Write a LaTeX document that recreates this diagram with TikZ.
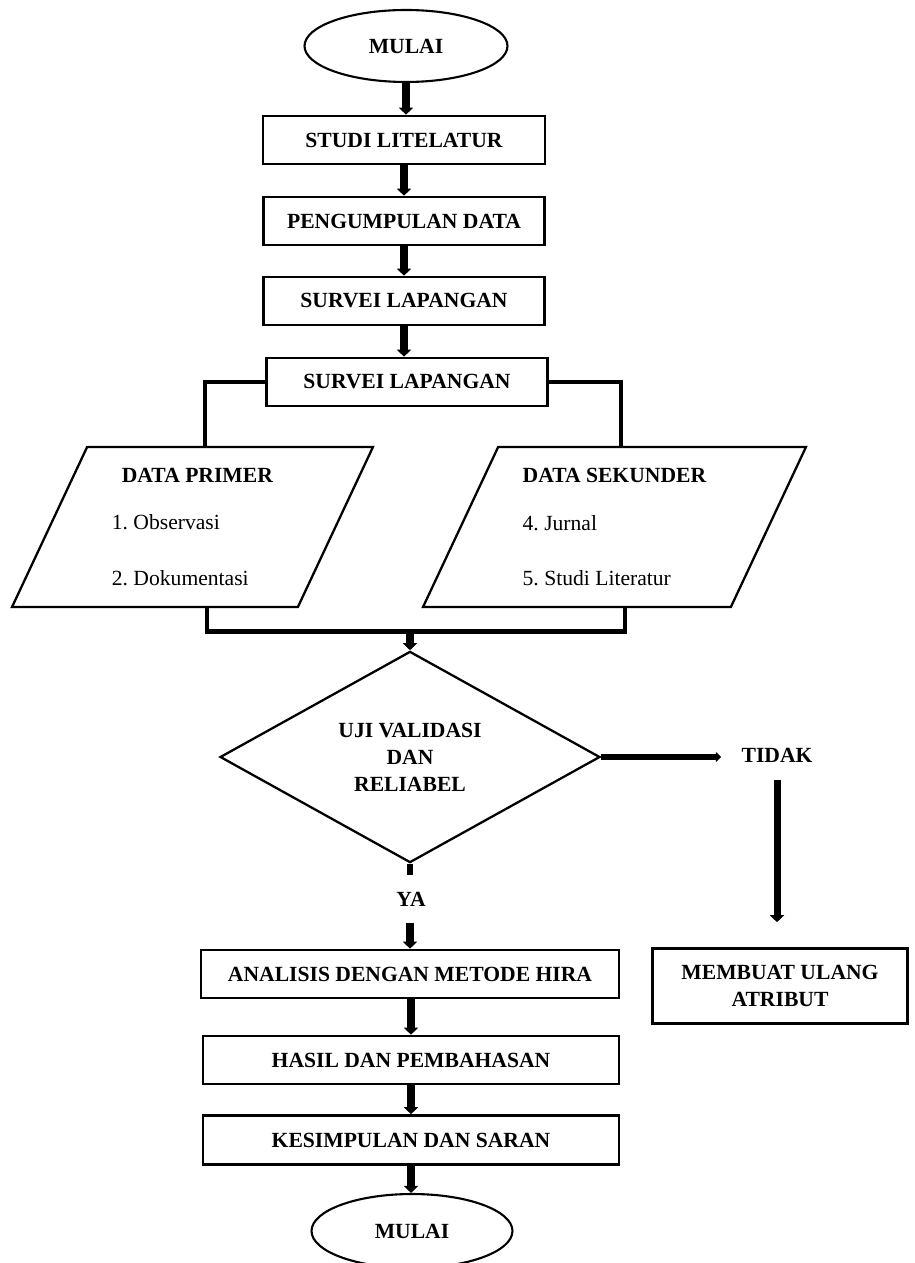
\documentclass[tikz,border=0pt]{standalone}
\usepackage{fontspec}
\setmainfont{Liberation Serif}
\usetikzlibrary{shapes.geometric,arrows.meta,calc}

\newcommand{\diagfont}{\fontsize{12.3}{15.3}\selectfont}

\tikzstyle{terminal} = [draw, ellipse, line width=1.2pt, minimum width=4.06cm, minimum height=1.44cm, font=\diagfont\bfseries]
\tikzstyle{process} = [draw, rectangle, line width=1.5pt, minimum height=0.96cm, font=\diagfont\bfseries, align=center]
\tikzstyle{io} = [draw, trapezium, trapezium left angle=60, trapezium right angle=120, trapezium stretches body, line width=1.3pt, minimum height=3.2cm, align=left]
\tikzstyle{decision} = [draw, diamond, line width=1.3pt, minimum width=7.6cm, minimum height=3.84cm, inner sep=0pt, font=\diagfont\bfseries, align=center]
\tikzstyle{answer} = [font=\diagfont\bfseries, inner sep=0pt]
\tikzstyle{arrow} = [line width=4pt, -{Triangle[length=4pt,width=8pt]}]
\tikzstyle{thinarrow} = [line width=3.6pt, -{Triangle[length=3pt,width=5.5pt]}]
\tikzstyle{connector} = [line width=2.3pt]

\begin{document}
\begin{tikzpicture}[x=0.02cm, y=-0.02cm, font=\diagfont]
	\useasboundingbox (0,0) rectangle (915,1263);
	
	% alur atas
	\node [terminal] (mulai) at (406,46) {MULAI};
	\node [process, minimum width=5.64cm] (studi) at (404,140) {STUDI LITELATUR};
	\node [process, minimum width=5.62cm] (kumpul) at (404,221) {PENGUMPULAN DATA};
	\node [process, minimum width=5.62cm] (survei1) at (404,301) {SURVEI LAPANGAN};
	\node [process, minimum width=5.62cm] (survei2) at (407,382) {SURVEI LAPANGAN};
	
	% data
	\node [io, minimum width=7.22cm] (primer) at (192.5,527) {\hspace{0.2cm}\textbf{DATA PRIMER}\\[0.42cm] 1.\ Observasi\\[0.58cm] 2.\ Dokumentasi};
	\node [io, minimum width=7.66cm] (sekunder) at (614.5,527) {\textbf{DATA SEKUNDER}\\[0.42cm] 4.\ Jurnal\\[0.58cm] 5.\ Studi Literatur};
	
	\node [decision] (uji) at (410,757) {UJI VALIDASI\\DAN\\RELIABEL};
	\node [answer, minimum height=0.94cm] (ya) at (411,899) {YA};
	\node [answer, minimum height=1cm, inner xsep=0.4cm] (tidak) at (777,755) {TIDAK};
	\node [process, minimum width=5.1cm, minimum height=1.5cm] (ulang) at (780,986) {MEMBUAT ULANG\\ATRIBUT};
	
	% alur bawah
	\node [process, minimum width=8.36cm] (analisis) at (410,974) {ANALISIS DENGAN METODE HIRA};
	\node [process, minimum width=8.32cm] (hasil) at (411,1060) {HASIL DAN PEMBAHASAN};
	\node [process, minimum width=8.32cm, minimum height=0.98cm] (kesimpulan) at (411,1140) {KESIMPULAN DAN SARAN};
	\node [terminal, minimum width=4.02cm, minimum height=1.48cm] (selesai) at (412,1231) {MULAI};
	
	\draw [arrow] (mulai.south) -- (mulai.south |- studi.north);
	\draw [arrow] (studi.south) -- (kumpul.north);
	\draw [arrow] (kumpul.south) -- (survei1.north);
	\draw [arrow] (survei1.south) -- (survei1.south |- survei2.north);
	
	\draw [connector] (survei2.west) -| ([xshift=0.25cm]primer.north);
	\draw [connector] (survei2.east) -| ([xshift=0.13cm]sekunder.north);
	\draw [connector, line width=2.8pt] ([xshift=0.29cm]primer.south) -- ++(0,23) -| ([xshift=0.21cm]sekunder.south);
	
	\coordinate (gabung) at (410,630);
	\draw [arrow] (gabung) -- (uji.north);
	
	\draw [line width=3.6pt] (uji.south) -- (uji.south |- ya.north);
	\draw [arrow] (ya.south -| uji.south) -- (uji.south |- analisis.north);
	\draw [thinarrow] (uji.east) -- (uji.east -| tidak.west);
	\draw [arrow, shorten >=0.5cm] (tidak.south) -- (tidak.south |- ulang.north);
	
	\draw [arrow] (hasil.north |- analisis.south) -- (hasil.north);
	\draw [arrow] (hasil.south) -- (kesimpulan.north);
	\draw [arrow] (kesimpulan.south) -- (kesimpulan.south |- selesai.north);
	
\end{tikzpicture}
\end{document}
